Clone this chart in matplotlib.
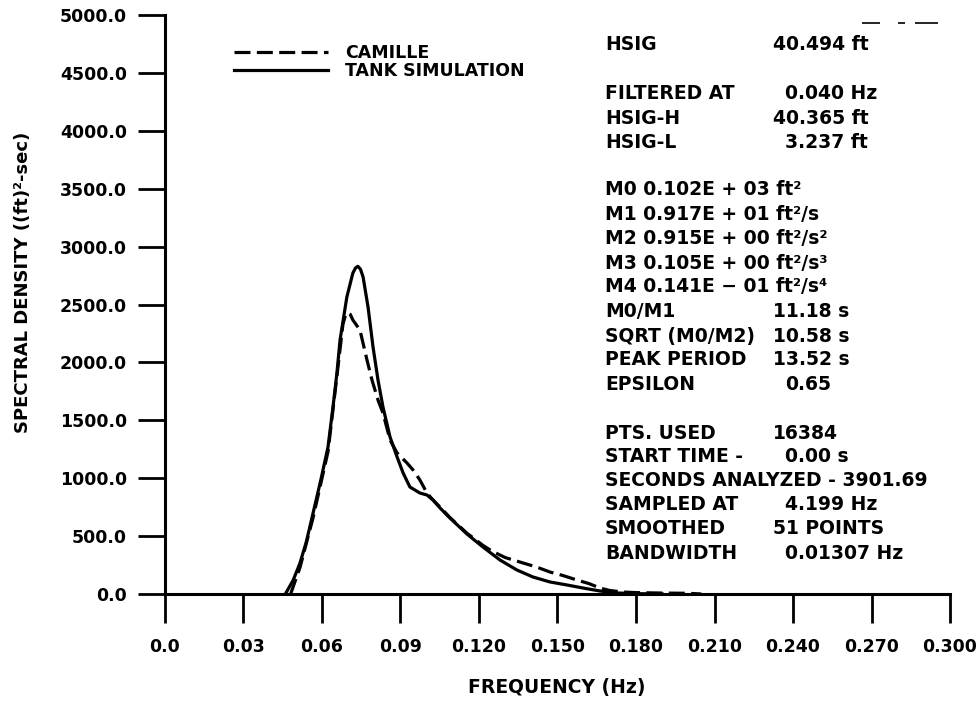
import matplotlib
matplotlib.use("Agg")
import matplotlib.pyplot as plt
from matplotlib.lines import Line2D

# ---------------- data ----------------
tank_freq = [0.0460, 0.0490, 0.0516, 0.0540, 0.0566, 0.0595, 0.0623, 0.0642, 0.0657,
             0.0669, 0.0695, 0.0718, 0.0728, 0.0737, 0.0747, 0.0757, 0.0776, 0.0795,
             0.0814, 0.0833, 0.0860, 0.0887, 0.0910, 0.0936, 0.0974, 0.1001, 0.1024,
             0.1051, 0.1089, 0.1154, 0.1215, 0.1280, 0.1345, 0.1406, 0.1471, 0.1536,
             0.1597, 0.1662, 0.1727, 0.1800, 0.1900]
tank_psd = [0, 120, 268, 450, 700, 980, 1270, 1615, 1908,
            2194, 2565, 2772, 2815, 2830, 2805, 2738, 2478, 2133,
            1848, 1615, 1356, 1183, 1045, 924, 872, 855, 812,
            743, 656, 518, 406, 294, 207, 147, 104, 78,
            52, 26, 9, 3, 0]

camille_freq = [0.0480, 0.0516, 0.0566, 0.0623, 0.0657, 0.0680, 0.0690, 0.0699, 0.0708,
                0.0718, 0.0745, 0.0772, 0.0791, 0.0814, 0.0833, 0.0860, 0.0887, 0.0925,
                0.0948, 0.0974, 0.1001, 0.1024, 0.1051, 0.1089, 0.1154, 0.1215, 0.1250,
                0.1300, 0.1368, 0.1420, 0.1471, 0.1520, 0.1574, 0.1620, 0.1662, 0.1700,
                0.1750, 0.1800, 0.1900, 0.2000, 0.2050]
camille_psd = [0, 230, 660, 1230, 1880, 2330, 2410, 2430, 2415,
               2366, 2280, 2020, 1848, 1675, 1563, 1330, 1218, 1131,
               1071, 985, 872, 812, 751, 660, 525, 420, 370,
               315, 268, 233, 190, 160, 121, 90, 52, 30,
               17, 12, 8, 6, 0]

x_ticks = [0.0, 0.03, 0.06, 0.09, 0.12, 0.15, 0.18, 0.21, 0.24, 0.27, 0.30]
x_tick_labels = ["0.0", "0.03", "0.06", "0.09", "0.120", "0.150", "0.180",
                 "0.210", "0.240", "0.270", "0.300"]
y_ticks = [0, 500, 1000, 1500, 2000, 2500, 3000, 3500, 4000, 4500, 5000]
y_tick_labels = ["0.0", "500.0", "1000.0", "1500.0", "2000.0", "2500.0", "3000.0",
                 "3500.0", "4000.0", "4500.0", "5000.0"]

info_labels = ["HSIG", "FILTERED AT", "HSIG-H", "HSIG-L",
               "M0 0.102E + 03 ft²", "M1 0.917E + 01 ft²/s", "M2 0.915E + 00 ft²/s²",
               "M3 0.105E + 00 ft²/s³", "M4 0.141E − 01 ft²/s⁴",
               "M0/M1", "SQRT (M0/M2)", "PEAK PERIOD", "EPSILON",
               "PTS. USED", "START TIME -", "SECONDS ANALYZED - 3901.69",
               "SAMPLED AT", "SMOOTHED", "BANDWIDTH"]
info_values = ["40.494 ft", "0.040 Hz", "40.365 ft", "3.237 ft",
               "", "", "", "", "",
               "11.18 s", "10.58 s", "13.52 s", "0.65",
               "16384", "0.00 s", "",
               "4.199 Hz", "51 POINTS", "0.01307 Hz"]

# ---------------- layout ----------------
W, H = 978, 701
FONT = "DejaVu Sans"
fig = plt.figure(figsize=(W / 100, H / 100), dpi=100)
fig.patch.set_facecolor("white")
ax = fig.add_axes([165 / W, 1 - 594 / H, (950 - 165) / W, (594 - 15) / H])

lw = 2.3
ax.plot(camille_freq, camille_psd, color="black", lw=lw, dashes=(5, 2),
        label="CAMILLE")
ax.plot(tank_freq, tank_psd, color="black", lw=lw, label="TANK SIMULATION")

ax.set_xlim(0, 0.30)
ax.set_ylim(0, 5000)
for s in ["top", "right"]:
    ax.spines[s].set_visible(False)
for s in ["left", "bottom"]:
    ax.spines[s].set_linewidth(2.2)

ax.set_xticks(x_ticks)
ax.set_xticklabels(x_tick_labels, fontsize=12.5, fontweight="bold", family=FONT)
ax.set_yticks(y_ticks)
ax.set_yticklabels(y_tick_labels, fontsize=12.5, fontweight="bold", family=FONT)
ax.tick_params(axis="x", direction="out", length=21, width=2.0, pad=11)
ax.tick_params(axis="y", direction="out", length=19.5, width=2.0, pad=8)

fig.text(23 / W, 1 - 282 / H, "SPECTRAL DENSITY ((ft)²-sec)", rotation=90,
         ha="center", va="center", fontsize=13, fontweight="bold", family=FONT)
fig.text(557 / W, 1 - 687 / H, "FREQUENCY (Hz)", ha="center", va="center",
         fontsize=13.5, fontweight="bold", family=FONT)

leg = ax.legend(loc="upper left", bbox_to_anchor=(234 / W, 1 - 44 / H),
                bbox_transform=fig.transFigure, frameon=False,
                prop={"family": FONT, "weight": "bold", "size": 12.5},
                handlelength=5.4, handletextpad=1.0, labelspacing=0.0,
                borderpad=0, borderaxespad=0)

# info text block
info_y = [43, 92, 117, 141, 188, 213, 237, 262, 285, 310, 335, 358, 383,
          432, 455, 479, 503, 527, 552]
val_x = [773, 785, 773, 785, 0, 0, 0, 0, 0, 773, 773, 773, 785,
         773, 785, 0, 785, 773, 785]
for lab, val, yy, xx in zip(info_labels, info_values, info_y, val_x):
    fig.text(605 / W, 1 - (yy + 7) / H, lab, ha="left", va="baseline",
             fontsize=13.5, fontweight="bold", family=FONT)
    if val:
        fig.text(xx / W, 1 - (yy + 7) / H, val, ha="left", va="baseline",
                 fontsize=13.5, fontweight="bold", family=FONT)

# small stray mark at top right of original
fig.add_artist(Line2D([862 / W, 938 / W], [1 - 23 / H, 1 - 23 / H],
                      transform=fig.transFigure, color="black", lw=1.2,
                      dashes=(10.8, 10.8, 4.2, 6.0, 14.0, 100)))

fig.savefig("out.png", dpi=100, facecolor="white")
